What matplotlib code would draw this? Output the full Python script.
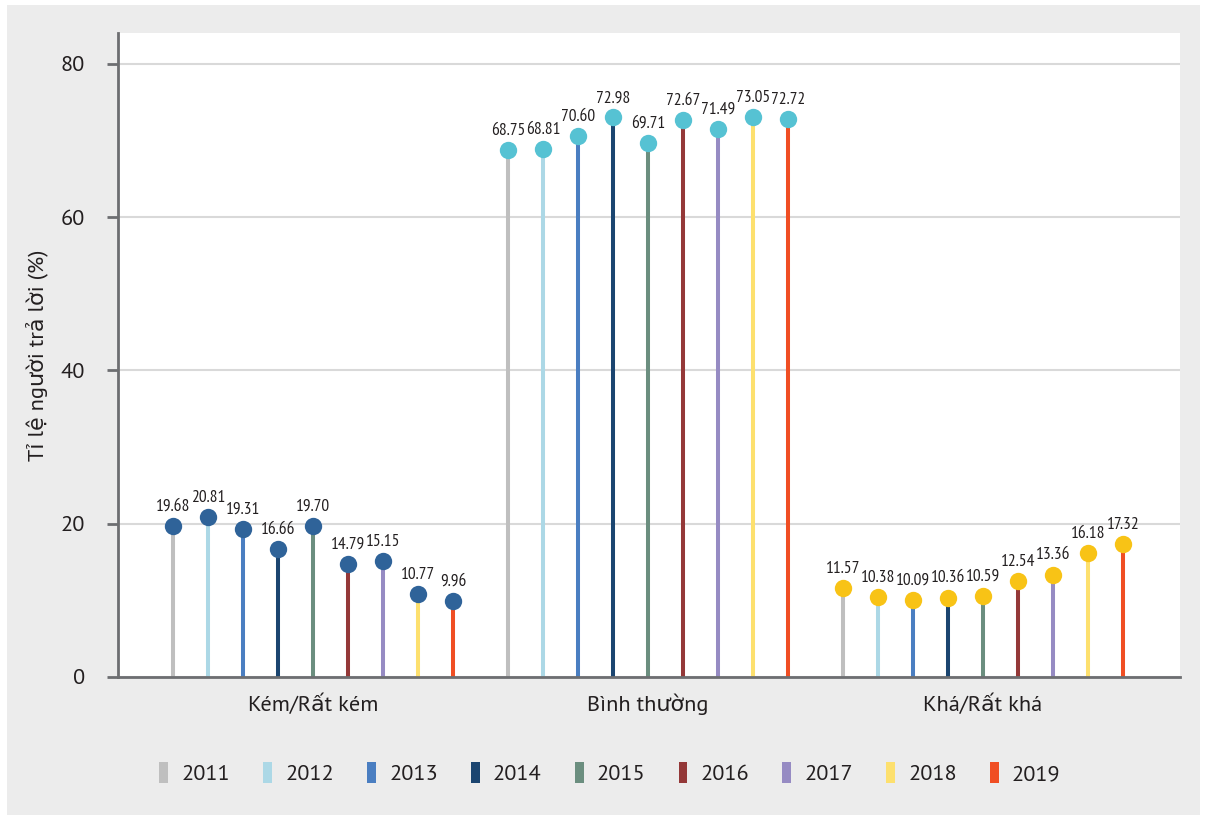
import matplotlib
matplotlib.use("Agg")
import matplotlib.pyplot as plt
from matplotlib.patches import Rectangle, Patch
from matplotlib import font_manager as fm

categories = ["Kém/Rất kém", "Bình thường", "Khá/Rất khá"]
years = ["2011", "2012", "2013", "2014", "2015", "2016", "2017", "2018", "2019"]

kem = [19.68, 20.81, 19.31, 16.66, 19.70, 14.79, 15.15, 10.77, 9.96]
binh_thuong = [68.75, 68.81, 70.60, 72.98, 69.71, 72.67, 71.49, 73.05, 72.72]
kha = [11.57, 10.38, 10.09, 10.36, 10.59, 12.54, 13.36, 16.18, 17.32]

year_colors = ["#bfbfbf", "#acd8e6", "#4a7ec1", "#1b4570", "#6b8e7f",
               "#943838", "#968bc3", "#fde06e", "#f04e23"]
marker_colors = ["#2f6399", "#56c2d3", "#f8c316"]

names = {f.name for f in fm.fontManager.ttflist}


def pick(cands):
    for c in cands:
        if c in names:
            return c
    return "DejaVu Sans"


main_font = pick(["PT Sans", "Open Sans", "Source Sans 3"])
narrow = pick(["PT Sans Narrow", "Roboto Condensed", "Open Sans Condensed",
               "Fira Sans Condensed", "Archivo Narrow", "Encode Sans Condensed"])
plt.rcParams["font.family"] = [main_font, "DejaVu Sans"]
txt = "#231f20"

fig = plt.figure(figsize=(12.06, 8.21), dpi=100)
fig.patches.append(Rectangle((7 / 1206, 6 / 821), 1193 / 1206, 810 / 821,
                             transform=fig.transFigure, facecolor="#ececec",
                             edgecolor="none", zorder=-10))
ax = fig.add_axes([118 / 1206, 1 - 677 / 821, 1062 / 1206, 644 / 821])
ax.set_facecolor("white")

step = 0.1045
groups = [kem, binh_thuong, kha]
for gi, vals in enumerate(groups):
    for yi, v in enumerate(vals):
        x = gi + (yi - 4) * step
        ax.vlines(x, 0, v, color=year_colors[yi], lw=2.9, zorder=2)
        ax.plot(x, v, "o", color=marker_colors[gi], ms=12.5, mec="none", zorder=3)
        ax.annotate(f"{v:.2f}", (x, v), xytext=(0, 8), textcoords="offset points",
                    ha="center", va="bottom", fontsize=12.5, family=narrow,
                    fontweight="normal", color=txt)

ax.set_xlim(-0.582, 2.588)
ax.set_ylim(0, 84)
ax.set_yticks([0, 20, 40, 60, 80])
ax.set_xticks([0, 1, 2])
ax.set_xticklabels(categories, fontsize=16, color=txt)
ax.tick_params(axis="x", length=0, pad=12)
ax.tick_params(axis="y", length=8, width=2, color="#6d6e71", labelsize=16,
               labelcolor=txt, pad=16)
ax.grid(axis="y", color="#d9d9d9", lw=1.5, zorder=0)
ax.set_axisbelow(True)
for s in ["top", "right"]:
    ax.spines[s].set_visible(False)
for s in ["left", "bottom"]:
    ax.spines[s].set_color("#6d6e71")
    ax.spines[s].set_linewidth(2)
ax.set_ylabel("Tỉ lệ người trả lời (%)", fontsize=16, color=txt, labelpad=9)

handles = [Patch(facecolor=c, edgecolor="none") for c in year_colors]
fig.legend(handles, years, loc="center", bbox_to_anchor=(610 / 1206, 1 - 773 / 821),
           ncol=9, frameon=False, fontsize=16, handlelength=0.4, handleheight=1.1,
           handletextpad=0.6, columnspacing=1.48, labelcolor=txt)

fig.savefig("out.png", dpi=100, facecolor="white")
